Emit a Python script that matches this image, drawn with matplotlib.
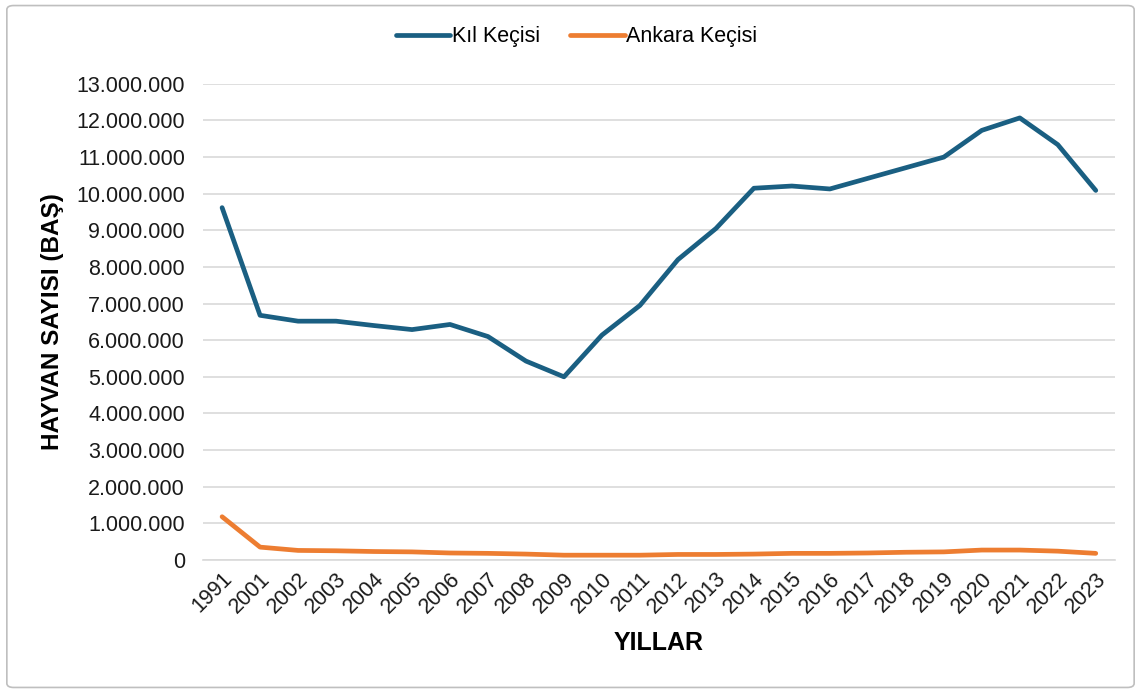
import numpy as np
import matplotlib.pyplot as plt
from matplotlib.patches import FancyBboxPatch
from matplotlib.ticker import FuncFormatter

plt.rcParams["font.family"] = ["Liberation Sans", "DejaVu Sans"]

years = ["1991", "2001", "2002", "2003", "2004", "2005", "2006", "2007", "2008",
         "2009", "2010", "2011", "2012", "2013", "2014", "2015", "2016", "2017",
         "2018", "2019", "2020", "2021", "2022", "2023"]

kil = [9.62, 6.68, 6.52, 6.52, 6.40, 6.29, 6.43, 6.10, 5.43,
       5.00, 6.14, 6.95, 8.20, 9.05, 10.15, 10.21, 10.13, 10.42,
       10.71, 11.00, 11.73, 12.07, 11.34, 10.09]
kil = [v * 1e6 for v in kil]

ankara = [1.18, 0.35, 0.26, 0.25, 0.23, 0.22, 0.19, 0.18, 0.16,
          0.13, 0.13, 0.13, 0.15, 0.15, 0.16, 0.18, 0.18, 0.19,
          0.21, 0.22, 0.27, 0.27, 0.24, 0.18]
ankara = [v * 1e6 for v in ankara]

fig = plt.figure(figsize=(11.41, 6.93), dpi=100)
ax = fig.add_axes([0.178, 0.192, 0.799, 0.687])

x = np.arange(len(years))
ax.plot(x, kil, color="#1A5F82", lw=3.4, label="Kıl Keçisi", solid_capstyle="round")
ax.plot(x, ankara, color="#ED7D31", lw=3.4, label="Ankara Keçisi", solid_capstyle="round")

ax.set_xlim(-0.5, len(years) - 0.5)
ax.set_ylim(0, 13e6)
ax.set_yticks(np.arange(0, 13e6 + 1, 1e6))
ax.yaxis.set_major_formatter(FuncFormatter(lambda v, p: f"{int(v):,}".replace(",", ".")))
ax.set_xticks(x)
ax.set_xticklabels(years, rotation=45, ha="right", rotation_mode="anchor")

ax.grid(axis="y", color="#D9D9D9", lw=1.2)
ax.set_axisbelow(True)
for s in ["top", "right", "left"]:
    ax.spines[s].set_visible(False)
ax.spines["bottom"].set_color("#D9D9D9")
ax.spines["bottom"].set_linewidth(1.2)
ax.tick_params(axis="both", length=0, labelsize=15.5, colors="#1A1A1A")
ax.tick_params(axis="y", pad=13)
ax.tick_params(axis="x", pad=6)

ax.set_ylabel("HAYVAN SAYISI (BAŞ)", fontsize=17.5, fontweight="bold", labelpad=9)
ax.set_xlabel("YILLAR", fontsize=18, fontweight="bold", labelpad=10)

fig.legend(loc="upper center", bbox_to_anchor=(0.505, 0.99), ncol=2, frameon=False,
           fontsize=15.5, handlelength=2.55, handletextpad=0.05, columnspacing=1.4)

border = FancyBboxPatch((0.006, 0.008), 0.988, 0.984, boxstyle="round,pad=0,rounding_size=0.006",
                        transform=fig.transFigure, fill=False, edgecolor="#BFBFBF", lw=1.2)
fig.patches.append(border)

fig.savefig("out.png", dpi=100)
